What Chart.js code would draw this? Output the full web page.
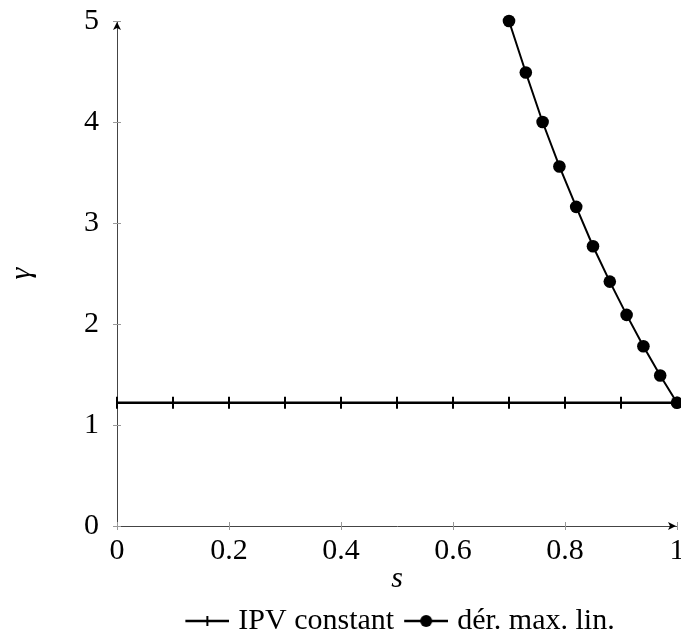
<!DOCTYPE html>
<html>
<head>
<meta charset="utf-8">
<script src="https://cdn.jsdelivr.net/npm/chart.js@4.4.1/dist/chart.umd.min.js"></script>
<style>
body { margin: 0; background: #fff; }
</style>
</head>
<body>
<canvas id="myChart" width="681" height="637"></canvas>
<script>
var sIPV = [0, 0.1, 0.2, 0.3, 0.4, 0.5, 0.6, 0.7, 0.8, 0.9, 1];
var gammaIPV = [1.22, 1.22, 1.22, 1.22, 1.22, 1.22, 1.22, 1.22, 1.22, 1.22, 1.22];
var sDer = [0.7, 0.73, 0.76, 0.79, 0.82, 0.85, 0.88, 0.91, 0.94, 0.97, 1];
var gammaDer = [5, 4.49, 4, 3.56, 3.16, 2.77, 2.42, 2.09, 1.78, 1.49, 1.22];
var xTicks = [0, 0.2, 0.4, 0.6, 0.8, 1];
var yTicks = [0, 1, 2, 3, 4, 5];
var seriesNames = ['IPV constant', 'dér. max. lin.'];

var serif = "'Liberation Serif', 'DejaVu Serif', serif";

function toPoints(xs, ys) {
  return xs.map(function(x, i) { return {x: x, y: ys[i]}; });
}

// little legend pictures: line with a tick, line with a dot
// (transparent strip on the left so the line sits closer to its text)
function legendIcon(withDot) {
  var cv = document.createElement('canvas');
  cv.width = 56; cv.height = 16;
  var g = cv.getContext('2d');
  g.strokeStyle = '#000'; g.fillStyle = '#000';
  g.lineWidth = 2.5;
  g.beginPath(); g.moveTo(12, 8); g.lineTo(56, 8); g.stroke();
  if (withDot) {
    g.beginPath(); g.arc(34, 8, 6, 0, Math.PI * 2); g.fill();
  } else {
    g.lineWidth = 2;
    g.beginPath(); g.moveTo(34, 3); g.lineTo(34, 13); g.stroke();
  }
  return cv;
}
var icons = [legendIcon(false), legendIcon(true)];

// tick marks across the axes + arrow heads
var axisDecor = {
  id: 'axisDecor',
  afterLayout: function(chart) {
    // push the legend row a bit lower
    chart.legend.top += 9;
    chart.legend.bottom += 9;
  },
  beforeDatasetsDraw: function(chart) {
    var c = chart.ctx, xs = chart.scales.x, ys = chart.scales.y, a = chart.chartArea;
    c.save();
    c.strokeStyle = '#999';
    c.lineWidth = 1;
    xs.ticks.forEach(function(t) {
      var px = Math.round(xs.getPixelForValue(t.value)) + 0.5;
      c.beginPath(); c.moveTo(px, a.bottom - 4); c.lineTo(px, a.bottom + 4); c.stroke();
    });
    ys.ticks.forEach(function(t) {
      var py = Math.round(ys.getPixelForValue(t.value)) + 0.5;
      c.beginPath(); c.moveTo(a.left - 4, py); c.lineTo(a.left + 4, py); c.stroke();
    });
    c.fillStyle = '#000';
    var ex = a.right - 1, ey = a.bottom;
    c.beginPath();
    c.moveTo(ex, ey);
    c.lineTo(ex - 8, ey - 4);
    c.lineTo(ex - 6, ey);
    c.lineTo(ex - 8, ey + 4);
    c.closePath(); c.fill();
    var tx = a.left, ty = a.top + 1;
    c.beginPath();
    c.moveTo(tx, ty);
    c.lineTo(tx - 4, ty + 8);
    c.lineTo(tx, ty + 6);
    c.lineTo(tx + 4, ty + 8);
    c.closePath(); c.fill();
    c.restore();
  }
};

var ctx = document.getElementById('myChart');

var myChart = new Chart(ctx, {
  type: 'line',
  data: {
    datasets: [{
      label: seriesNames[0],
      data: toPoints(sIPV, gammaIPV),
      borderColor: '#000',
      backgroundColor: '#000',
      borderWidth: 2.5,
      pointStyle: 'line',
      rotation: 90,
      pointRadius: 6,
      pointBorderWidth: 2,
      clip: false
    }, {
      label: seriesNames[1],
      data: toPoints(sDer, gammaDer),
      borderColor: '#000',
      backgroundColor: '#000',
      borderWidth: 2,
      pointStyle: 'circle',
      pointRadius: 6.3,
      pointBorderWidth: 0,
      clip: false
    }]
  },
  plugins: [axisDecor],
  options: {
    responsive: false,
    animation: false,
    layout: { autoPadding: false, padding: { top: 21, right: 4, bottom: 0, left: 0 } },
    plugins: {
      tooltip: { enabled: false },
      legend: {
        position: 'bottom',
        fullSize: false,
        labels: {
          usePointStyle: true,
          pointStyleWidth: 44,
          padding: 4,
          color: '#000',
          font: { family: serif, size: 30 },
          generateLabels: function(chart) {
            return chart.data.datasets.map(function(ds, i) {
              return {
                text: ds.label,
                pointStyle: icons[i],
                datasetIndex: i,
                fontColor: '#000',
                lineWidth: 0,
                strokeStyle: 'rgba(0,0,0,0)',
                fillStyle: 'rgba(0,0,0,0)',
                hidden: false
              };
            });
          }
        }
      }
    },
    scales: {
      x: {
        type: 'linear',
        min: 0, max: 1,
        afterBuildTicks: function(s) { s.ticks = xTicks.map(function(v) { return {value: v}; }); },
        afterFit: function(s) {
          s.height = 67;
          s.paddingRight = 0;
          s.paddingLeft = 0;
        },
        ticks: { color: '#000', padding: 7, font: { family: serif, size: 30 },
          callback: function(v) { return String(v); } },
        grid: { drawOnChartArea: false, drawTicks: false },
        border: { color: '#444', width: 1 },
        title: { display: true, text: 's', color: '#000', padding: { top: 0, bottom: -4 },
          font: { family: serif, size: 30, style: 'italic' } }
      },
      y: {
        min: 0, max: 5,
        afterBuildTicks: function(s) { s.ticks = yTicks.map(function(v) { return {value: v}; }); },
        afterFit: function(s) { s.width = 117; s.paddingTop = 0; s.paddingBottom = 0; },
        ticks: { color: '#000', padding: 18, font: { family: serif, size: 30 } },
        grid: { drawOnChartArea: false, drawTicks: false },
        border: { color: '#444', width: 1 },
        title: { display: true, text: 'γ', color: '#000', padding: { top: 4, bottom: 0 },
          font: { family: serif, size: 30, style: 'italic' } }
      }
    }
  }
});
</script>
</body>
</html>
